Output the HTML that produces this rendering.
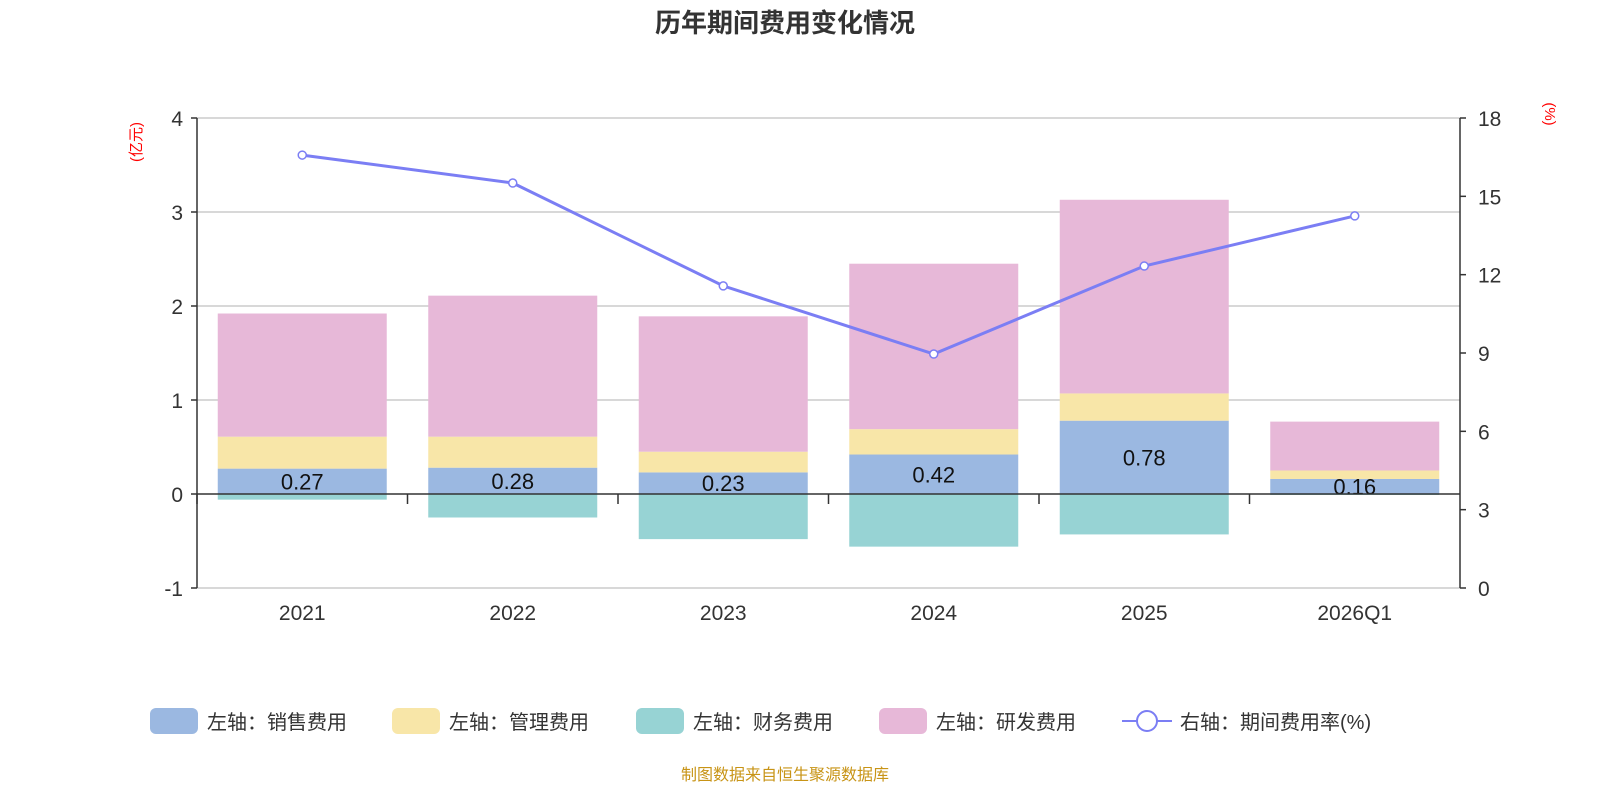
<!DOCTYPE html>
<html><head><meta charset="utf-8"><style>
body{margin:0;background:#fff;font-family:"Liberation Sans","Noto Sans CJK SC",sans-serif;}
svg text{font-family:"Liberation Sans","Noto Sans CJK SC",sans-serif;}
</style></head><body>
<svg id="c" width="1600" height="800" xmlns="http://www.w3.org/2000/svg">
<text x="785" y="32" text-anchor="middle" font-size="26" font-weight="bold" fill="#333">历年期间费用变化情况</text>
<text transform="translate(141,142) rotate(-90)" text-anchor="middle" font-size="15" fill="#f00">(亿元)</text>
<text transform="translate(1545,114) rotate(90)" text-anchor="middle" font-size="15" fill="#f00">(%)</text>
<g id="grid"></g><g id="bars"></g><g id="axes"></g><g id="line"></g>
<g id="legend" font-size="20" fill="#333">
<rect x="150" y="708" width="48" height="26" rx="6" fill="#9bb8e1"/>
<text x="207" y="729">左轴：销售费用</text>
<rect x="392" y="708" width="48" height="26" rx="6" fill="#f8e6a8"/>
<text x="449" y="729">左轴：管理费用</text>
<rect x="636" y="708" width="48" height="26" rx="6" fill="#97d3d4"/>
<text x="693" y="729">左轴：财务费用</text>
<rect x="879" y="708" width="48" height="26" rx="6" fill="#e7b8d8"/>
<text x="936" y="729">左轴：研发费用</text>
<line x1="1122" y1="721" x2="1172" y2="721" stroke="#7b7ef4" stroke-width="2"/>
<circle cx="1147" cy="721" r="10" fill="#fff" stroke="#7b7ef4" stroke-width="2"/>
<text x="1180" y="729">右轴：期间费用率(%)</text>
</g>
<text x="785" y="780" text-anchor="middle" font-size="16" fill="#c89416">制图数据来自恒生聚源数据库</text>
</svg>
<script>
const categories=["2021","2022","2023","2024","2025","2026Q1"];
const sales=[0.27,0.28,0.23,0.42,0.78,0.16];
const admin=[0.34,0.33,0.22,0.27,0.29,0.09];
const finance=[-0.06,-0.25,-0.48,-0.56,-0.43,-0.01];
const rd=[1.31,1.50,1.44,1.76,2.06,0.52];
const rate=[16.58,15.51,11.57,8.96,12.33,14.25];
const leftTicks=[-1,0,1,2,3,4];
const rightTicks=[0,3,6,9,12,15,18];
const NS="http://www.w3.org/2000/svg";
const X0=197,X1=1460,YT=118,YB=588;
const yL=v=>YB-(v+1)/5*(YB-YT);
const yR=v=>YB-v/18*(YB-YT);
const band=(X1-X0)/categories.length;
const xc=i=>X0+band*(i+0.5);
const bw=169;
function mk(p,tag,a){const e=document.createElementNS(NS,tag);for(const k in a)e.setAttribute(k,a[k]);document.getElementById(p).appendChild(e);return e;}
leftTicks.forEach(t=>{
 const g=mk('grid','line',{x1:X0,x2:X1,y1:yL(t),y2:yL(t),stroke:t===0?'none':'#ccc','stroke-width':1.5});
 
 const l=mk('axes','text',{x:183,y:yL(t)+8,'text-anchor':'end','font-size':21,fill:'#333'});l.textContent=t;
 
 mk('axes','line',{x1:X0-6,x2:X0,y1:yL(t),y2:yL(t),stroke:'#333','stroke-width':1.5});
});
rightTicks.forEach(t=>{
 const l=mk('axes','text',{x:1478,y:yR(t)+8,'font-size':21,fill:'#333'});l.textContent=t;
 
 mk('axes','line',{x1:X1,x2:X1+6,y1:yR(t),y2:yR(t),stroke:'#333','stroke-width':1.5});
});
const defs=mk('bars','defs',{});
categories.forEach((c,i)=>{
 const x=xc(i)-bw/2;let top=0;
 function seg(v,col,name,base){const y1=yL(base+v),y2=yL(base);const r=mk('bars','rect',{x:x,y:Math.min(y1,y2),width:bw,height:Math.abs(y2-y1),fill:col});
  return r;}
 seg(finance[i],'#97d3d4','bar-finance',0);
 seg(sales[i],'#9bb8e1','bar-sales',0);
 seg(admin[i],'#f8e6a8','bar-admin',sales[i]);
 seg(rd[i],'#e7b8d8','bar-rd',sales[i]+admin[i]);
 const cp=document.createElementNS(NS,'clipPath');cp.setAttribute('id','cp'+i);
 const cr=document.createElementNS(NS,'rect');cr.setAttribute('x',x);cr.setAttribute('y',yL(sales[i]));cr.setAttribute('width',bw);cr.setAttribute('height',yL(0)-yL(sales[i]));cp.appendChild(cr);defs.appendChild(cp);
 const t=mk('bars','text',{x:xc(i),y:(yL(sales[i])+yL(0))/2+8,'text-anchor':'middle','font-size':22,fill:'#111','clip-path':'url(#cp'+i+')'});
 t.textContent=sales[i].toFixed(2);
 
 const xl=mk('axes','text',{x:xc(i),y:620,'text-anchor':'middle','font-size':21,fill:'#333'});xl.textContent=c;
 
 mk('axes','line',{x1:X0+band*i,x2:X0+band*i,y1:yL(0),y2:yL(0)+10,stroke:'#333','stroke-width':1.5});
});
mk('axes','line',{x1:X0,x2:X1,y1:yL(0),y2:yL(0),stroke:'#333','stroke-width':1.5});
mk('axes','line',{x1:X0,x2:X0,y1:YT,y2:YB,stroke:'#333','stroke-width':1.5});
mk('axes','line',{x1:X1,x2:X1,y1:YT,y2:YB,stroke:'#333','stroke-width':1.5});
const pl=mk('line','polyline',{points:rate.map((v,i)=>xc(i)+','+yR(v)).join(' '),fill:'none',stroke:'#7b7ef4','stroke-width':3});

rate.forEach((v,i)=>{const p=mk('line','circle',{cx:xc(i),cy:yR(v),r:4,fill:'#fff',stroke:'#7b7ef4','stroke-width':1.5});
 });
</script>
</body></html>
